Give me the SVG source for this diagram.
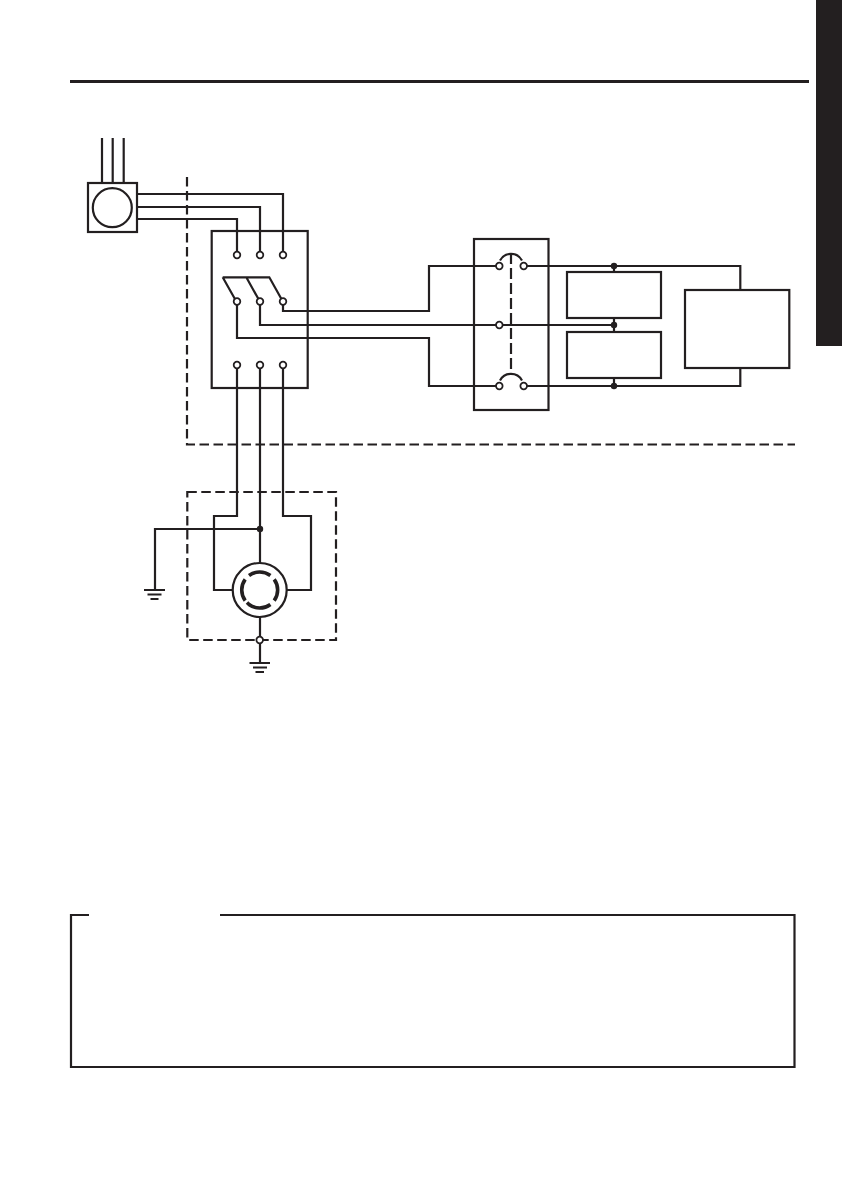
<svg xmlns="http://www.w3.org/2000/svg" width="842" height="1192" viewBox="0 0 842 1192">
<style>
.l{fill:none;stroke:#231f20;stroke-width:2.200}
.f{fill:#fff;stroke:#231f20;stroke-width:2.200}
.d{fill:none;stroke:#231f20;stroke-width:2.200;stroke-dasharray:9.500 4.500}
.t{fill:#fff;stroke:#231f20;stroke-width:1.800}
.j{fill:#231f20}
.k{fill:none;stroke:#231f20;stroke-width:3.600}
</style>
<defs>
<circle id="term" class="t" r="3.300"/>
<circle id="junction" class="j" r="3.200"/>
</defs>
<rect width="842" height="1192" fill="#fff"/>
<g id="page-frame">
<rect x="816" y="0" width="26" height="346" fill="#231f20"/>
<path d="M70 81.500H809" fill="none" stroke="#231f20" stroke-width="3"/>
<path d="M89 915H71V1067H794.500V915H220" class="l"/>
</g>
<g id="boundaries">
<path class="d" d="M187 177V444.500H795"/>
<rect class="d" x="187.300" y="492" width="148.700" height="148"/>
</g>
<g id="connectors">
<path class="l" d="M102 138V183M112.700 138V183M123.700 138V183"/>
<path class="l" d="M137 194H283V252M137 207H260V252M137 219H237V252"/>
<path class="l" d="M283 304V311H429V266H499M523.700 266H740.300V290"/>
<path class="l" d="M260 304V325H614"/>
<path class="l" d="M237 304V338H429V386H499M523.700 386H740.300V368"/>
<path class="l" d="M614 266V272M614 318V332M614 378V386"/>
<path class="l" d="M237 368V516H214V590H233M260 368V563M283 368V516H311V590H287"/>
<path class="l" d="M260 529H155V590"/>
<path class="l" d="M260 617V663"/>
</g>
<g id="meter">
<rect class="f" x="88" y="183" width="49" height="49"/>
<circle class="f" cx="112.300" cy="207.700" r="19.500"/>
</g>
<g id="transfer-switch">
<rect class="l" x="211.700" y="231" width="96" height="157"/>
<path class="l" d="M222.700 277.300H269.300L282 300M246.300 277.300L259 300M222.700 277.300L235.500 300"/>
<use href="#term" x="237" y="255"/><use href="#term" x="260" y="255"/><use href="#term" x="283" y="255"/>
<use href="#term" x="237" y="301.500"/><use href="#term" x="260" y="301.500"/><use href="#term" x="283" y="301.500"/>
<use href="#term" x="237" y="365"/><use href="#term" x="260" y="365"/><use href="#term" x="283" y="365"/>
</g>
<g id="breaker">
<rect class="l" x="474" y="239" width="74.500" height="171"/>
<path class="l" d="M500 260.500A12.500 12.500 0 0 1 522 260.500M500 380.500A12.500 12.500 0 0 1 522 380.500"/>
<path class="l" d="M511 253V372.500" stroke-dasharray="11 4"/>
<use href="#term" x="499.300" y="266"/><use href="#term" x="523.700" y="266"/>
<use href="#term" x="499.300" y="325"/>
<use href="#term" x="499.300" y="386"/><use href="#term" x="523.700" y="386"/>
</g>
<g id="load-upper"><rect class="f" x="567" y="272" width="94" height="46"/></g>
<g id="load-lower"><rect class="f" x="567" y="332" width="94" height="46"/></g>
<g id="load-right"><rect class="f" x="685" y="290" width="104.300" height="78"/></g>
<g id="junctions">
<use href="#junction" x="614" y="266"/><use href="#junction" x="614" y="325"/><use href="#junction" x="614" y="386"/>
<use href="#junction" x="260" y="529"/>
</g>
<g id="receptacle">
<circle class="f" cx="259.700" cy="590" r="27"/>
<path class="k" d="M249 575.500A18 18 0 0 1 270.400 575.500M274.200 579.400A18 18 0 0 1 274.200 600.600M270.400 604.500A18 18 0 0 1 249 604.500L247 602.500M245.200 600.600A18 18 0 0 1 245.200 579.400"/>
</g>
<g id="ground-terminal"><use href="#term" x="259.700" y="640"/></g>
<g id="ground-left"><path class="l" d="M144 590H165M147.500 594.500H161.500M150.500 599H158.500"/></g>
<g id="ground-bottom"><path class="l" d="M249.500 663H270M253 667.500H267M255.500 672H264"/></g>
</svg>
